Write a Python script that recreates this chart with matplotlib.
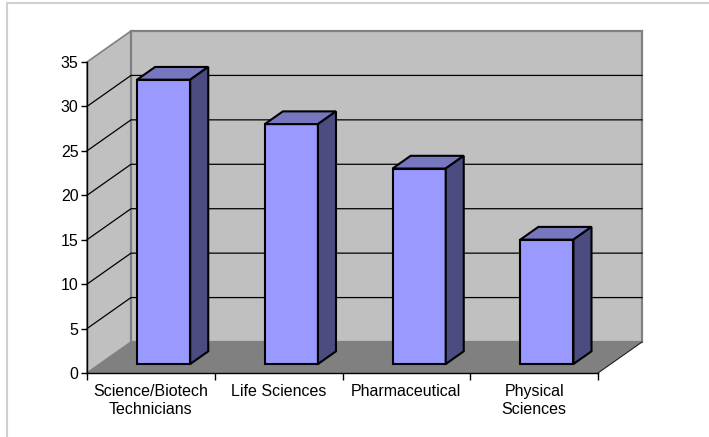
import matplotlib.pyplot as plt
from matplotlib.patches import Polygon

# data
categories = ['Science/Biotech\nTechnicians', 'Life Sciences', 'Pharmaceutical', 'Physical\nSciences']
values = [32, 27, 22, 14]
y_ticks = [0, 5, 10, 15, 20, 25, 30, 35]

plt.rcParams['font.family'] = ['Liberation Sans', 'DejaVu Sans']

W, H = 709, 437
fig = plt.figure(figsize=(W / 100, H / 100), dpi=100)

# front plane of the 3D box, in pixels
x0, x1 = 87, 598
y_bot, y_top = 373, 62
ax = fig.add_axes([x0 / W, (H - y_bot) / H, (x1 - x0) / W, (y_bot - y_top) / H])
ymax = 35
n = len(categories)
ax.set_xlim(0, n)
ax.set_ylim(0, ymax)
ax.set_facecolor('none')

# depth of the box in data units (44 px right, 31 px up)
DX = 44 / ((x1 - x0) / n)
DY = 31 / ((y_bot - y_top) / ymax)

def poly(pts, fc, ec='none', lw=0, z=1):
    ax.add_patch(Polygon(pts, closed=True, facecolor=fc, edgecolor=ec,
                         linewidth=lw, zorder=z, clip_on=False, joinstyle='miter'))

wall = '#c0c0c0'
edge = '#808080'
# left wall, back wall, floor
poly([(0, 0), (0, ymax), (DX, ymax + DY), (DX, DY)], wall, edge, 1.2)
poly([(DX, DY), (DX, ymax + DY), (n + DX, ymax + DY), (n + DX, DY)], wall, edge, 1.6)
poly([(0, 0), (DX, DY), (n + DX, DY), (n, 0)], '#808080', 'none', 0)
ax.plot([n, n + DX], [0, DY], color='#202020', lw=0.8, clip_on=False, zorder=2)

# gridlines on the walls
for v in y_ticks[1:-1]:
    ax.plot([0, DX, n + DX], [v, v + DY, v + DY], color='black', lw=0.9,
            clip_on=False, zorder=1.5)

# bars
w = 0.416
f0, f1 = 0.29, 0.70
for i, v in enumerate(values):
    bl = i + 0.5 - w / 2 + f0 * DX
    br = bl + w
    by = f0 * DY
    ddx, ddy = (f1 - f0) * DX, (f1 - f0) * DY
    poly([(bl, by), (br, by), (br, by + v), (bl, by + v)], '#9999ff', 'black', 1.5, 3)
    poly([(bl, by + v), (br, by + v), (br + ddx, by + v + ddy), (bl + ddx, by + v + ddy)],
         '#7777c0', 'black', 1.5, 3)
    poly([(br, by), (br + ddx, by + ddy), (br + ddx, by + v + ddy), (br, by + v)],
         '#4c4c80', 'black', 1.5, 3)

# axes
for s in ['top', 'right']:
    ax.spines[s].set_visible(False)
for s in ['left', 'bottom']:
    ax.spines[s].set_color('black')
    ax.spines[s].set_linewidth(1.0)
    ax.spines[s].set_zorder(4)
ax.set_yticks(y_ticks)
ax.tick_params(axis='y', direction='out', length=4, width=1, labelsize=11.5, pad=2)
ax.set_xticks(range(n + 1))
ax.set_xticklabels([])
ax.set_xticks([i + 0.5 for i in range(n)], minor=True)
ax.set_xticklabels(categories, minor=True, fontsize=11.5, linespacing=1.25)
ax.tick_params(axis='x', which='major', direction='out', length=5, width=1)
ax.tick_params(axis='x', which='minor', length=0, pad=8)

# outer chart border (top and left visible)
fig.add_artist(plt.Line2D([7 / W, 1], [1 - 3 / H, 1 - 3 / H], color='#d0d0d0', lw=1.5))
fig.add_artist(plt.Line2D([7 / W, 7 / W], [0, 1 - 3 / H], color='#d0d0d0', lw=1.5))

fig.savefig('out.png', dpi=100)
